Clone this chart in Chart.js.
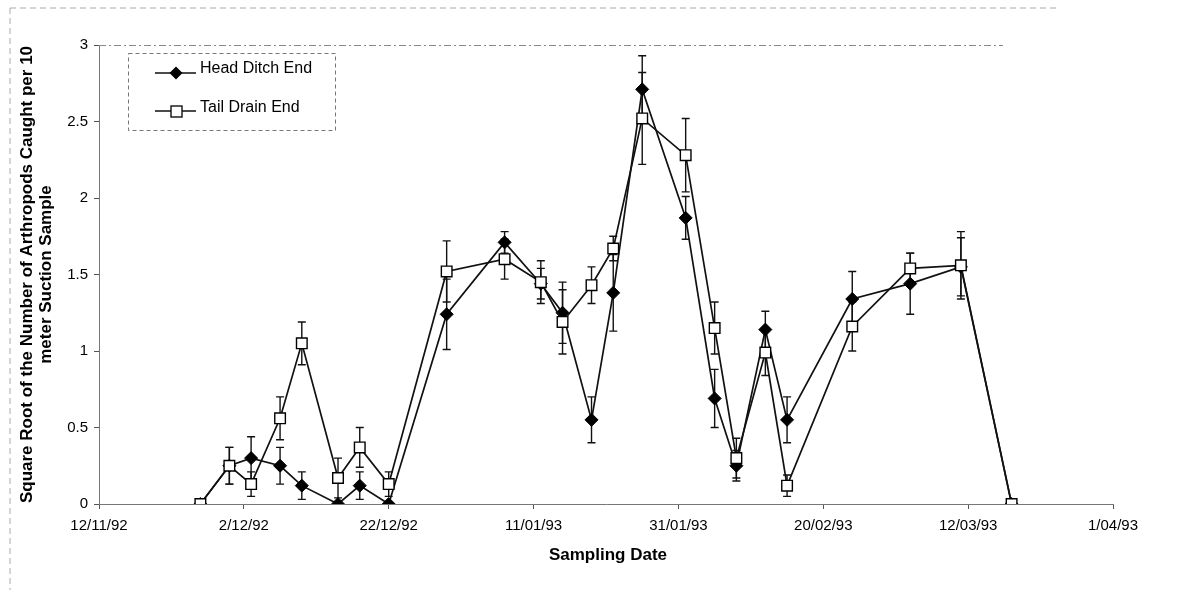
<!DOCTYPE html>
<html>
<head>
<meta charset="utf-8">
<title>Arthropods per suction sample</title>
<script src="https://cdn.jsdelivr.net/npm/chart.js@4/dist/chart.umd.min.js"></script>
<style>
  body { margin: 0; background: #fff; }
  canvas { display: block; }
</style>
</head>
<body>
<canvas id="myChart" width="1186" height="592"></canvas>
<script>
// sampling dates (yyyy-mm-dd)
const sampleDates = [
  "1992-11-26", "1992-11-30", "1992-12-03", "1992-12-07", "1992-12-10", "1992-12-15",
  "1992-12-18", "1992-12-22", "1992-12-30", "1993-01-07", "1993-01-12", "1993-01-15",
  "1993-01-19", "1993-01-22", "1993-01-26", "1993-02-01", "1993-02-05", "1993-02-08",
  "1993-02-12", "1993-02-15", "1993-02-24", "1993-03-04", "1993-03-11", "1993-03-18"
];

// square root of arthropod counts, and standard errors
const headDitch = [0, 0.25, 0.30, 0.25, 0.12, 0, 0.12, 0, 1.24, 1.71, 1.44, 1.25,
  0.55, 1.38, 2.71, 1.87, 0.69, 0.25, 1.14, 0.55, 1.34, 1.44, 1.55, 0];
const headDitchErr = [0, 0.12, 0.14, 0.12, 0.09, 0, 0.09, 0, 0.23, 0.07, 0.10, 0.20,
  0.15, 0.25, 0.22, 0.14, 0.19, 0.10, 0.12, 0.15, 0.18, 0.20, 0.19, 0];
const tailDrain = [0, 0.25, 0.13, 0.56, 1.05, 0.17, 0.37, 0.13, 1.52, 1.60, 1.45, 1.19,
  1.43, 1.67, 2.52, 2.28, 1.15, 0.30, 0.99, 0.12, 1.16, 1.54, 1.56, 0];
const tailDrainErr = [0, 0.12, 0.08, 0.14, 0.14, 0.13, 0.13, 0.08, 0.20, 0.13, 0.14, 0.21,
  0.12, 0.08, 0.30, 0.24, 0.17, 0.13, 0.15, 0.07, 0.16, 0.10, 0.22, 0];

// x axis runs in days from 12/11/92, one tick every 20 days
const xTickLabels = ["12/11/92", "2/12/92", "22/12/92", "11/01/93", "31/01/93", "20/02/93", "12/03/93", "1/04/93"];
const yTickLabels = ["0", "0.5", "1", "1.5", "2", "2.5", "3"];

const FONT = "'Liberation Sans', Arial, sans-serif";
const firstDay = Date.UTC(1992, 10, 12);

function dayNumber(s) {
  const p = s.split("-").map(Number);
  return (Date.UTC(p[0], p[1] - 1, p[2]) - firstDay) / 86400000;
}

const days = sampleDates.map(dayNumber);
const toPoints = (vals) => vals.map((v, i) => ({ x: days[i], y: v }));

// vertical error bars with caps, drawn under the markers
const errorBars = {
  id: "errorBars",
  beforeDatasetsDraw(chart) {
    const ctx = chart.ctx;
    const yScale = chart.scales.y;
    ctx.save();
    ctx.strokeStyle = "#111";
    ctx.lineWidth = 1.4;
    chart.data.datasets.forEach((ds, i) => {
      const meta = chart.getDatasetMeta(i);
      ds.errors.forEach((e, j) => {
        if (!e) return;
        const x = meta.data[j].x;
        const v = ds.data[j].y;
        const yHi = yScale.getPixelForValue(v + e);
        const yLo = yScale.getPixelForValue(Math.max(0, v - e));
        ctx.beginPath();
        ctx.moveTo(x, yHi); ctx.lineTo(x, yLo);
        ctx.moveTo(x - 4, yHi); ctx.lineTo(x + 4, yHi);
        ctx.moveTo(x - 4, yLo); ctx.lineTo(x + 4, yLo);
        ctx.stroke();
      });
    });
    ctx.restore();
  }
};

// frame, legend box and axis titles
const decorations = {
  id: "decorations",
  afterDraw(chart) {
    const ctx = chart.ctx;
    const a = chart.chartArea;
    ctx.save();

    // faint dashed outer frame and plot-area top edge
    ctx.strokeStyle = "#aaa";
    ctx.lineWidth = 1;
    ctx.setLineDash([6, 4]);
    ctx.beginPath();
    ctx.moveTo(10, 8); ctx.lineTo(1060, 8);
    ctx.moveTo(10, 8); ctx.lineTo(10, 590);
    ctx.stroke();
    ctx.strokeStyle = "#888";
    ctx.setLineDash([7, 3, 2, 3]);
    ctx.beginPath();
    ctx.moveTo(a.left, a.top + 0.5); ctx.lineTo(a.right - 110, a.top + 0.5);
    ctx.stroke();

    // legend
    const lx = a.left + 29, ly = a.top + 8;
    ctx.strokeStyle = "#777";
    ctx.setLineDash([4, 3]);
    ctx.strokeRect(lx + 0.5, ly + 0.5, 207, 77);
    ctx.setLineDash([]);

    ctx.strokeStyle = "#111";
    ctx.lineWidth = 1.7;
    ctx.beginPath();
    ctx.moveTo(lx + 27, ly + 20); ctx.lineTo(lx + 68, ly + 20);
    ctx.moveTo(lx + 27, ly + 58); ctx.lineTo(lx + 68, ly + 58);
    ctx.stroke();

    ctx.fillStyle = "#000";
    ctx.beginPath();
    const dx = lx + 48, dy = ly + 20;
    ctx.moveTo(dx, dy - 6.5); ctx.lineTo(dx + 6.5, dy); ctx.lineTo(dx, dy + 6.5); ctx.lineTo(dx - 6.5, dy);
    ctx.closePath();
    ctx.fill();

    ctx.fillStyle = "#fff";
    ctx.lineWidth = 1.4;
    ctx.fillRect(lx + 43, ly + 53, 11, 11);
    ctx.strokeRect(lx + 43, ly + 53, 11, 11);

    ctx.fillStyle = "#000";
    ctx.font = "16px " + FONT;
    ctx.textBaseline = "middle";
    ctx.textAlign = "left";
    ctx.fillText(chart.data.datasets[0].label, lx + 72, ly + 16);
    ctx.fillText(chart.data.datasets[1].label, lx + 72, ly + 55);

    // axis titles
    ctx.font = "bold 17px " + FONT;
    ctx.textAlign = "center";
    ctx.fillText("Sampling Date", (a.left + a.right) / 2 + 2, 555);

    ctx.translate(0, (a.top + a.bottom) / 2);
    ctx.rotate(-Math.PI / 2);
    ctx.fillText("Square Root of the Number of Arthropods Caught per 10", 0, 27);
    ctx.fillText("meter Suction Sample", 0, 46);
    ctx.restore();
  }
};

const ctx = document.getElementById("myChart").getContext("2d");
new Chart(ctx, {
  type: "line",
  data: {
    datasets: [
      {
        label: "Head Ditch End",
        data: toPoints(headDitch),
        errors: headDitchErr,
        borderColor: "#111",
        borderWidth: 1.7,
        pointStyle: "rectRot",
        pointRadius: 6.5,
        pointBackgroundColor: "#000",
        pointBorderColor: "#000",
        pointBorderWidth: 1,
        order: 2
      },
      {
        label: "Tail Drain End",
        data: toPoints(tailDrain),
        errors: tailDrainErr,
        borderColor: "#111",
        borderWidth: 1.7,
        pointStyle: "rect",
        pointRadius: 7.5,
        pointBackgroundColor: "#fff",
        pointBorderColor: "#000",
        pointBorderWidth: 1.4,
        order: 1
      }
    ]
  },
  options: {
    responsive: false,
    animation: false,
    layout: { padding: { top: 45, right: 73, left: 0, bottom: 0 } },
    plugins: {
      legend: { display: false },
      tooltip: { enabled: false }
    },
    scales: {
      x: {
        type: "linear",
        min: 0,
        max: 140,
        afterFit: (scale) => { scale.height = 88; },
        border: { color: "#777", dash: [7, 3, 2, 3] },
        grid: { drawOnChartArea: false, tickLength: 5, color: "#555" },
        ticks: {
          stepSize: 20,
          autoSkip: false,
          maxRotation: 0,
          padding: 8,
          color: "#000",
          font: { family: FONT, size: 15 },
          callback: (value) => xTickLabels[value / 20]
        }
      },
      y: {
        min: 0,
        max: 3,
        afterFit: (scale) => { scale.width = 99; },
        border: { color: "#777", dash: [6, 3] },
        grid: { drawOnChartArea: false, tickLength: 5, color: "#555" },
        ticks: {
          stepSize: 0.5,
          padding: 6,
          color: "#000",
          font: { family: FONT, size: 15 },
          callback: (value, i) => yTickLabels[i]
        }
      }
    }
  },
  plugins: [errorBars, decorations]
});
</script>
</body>
</html>
